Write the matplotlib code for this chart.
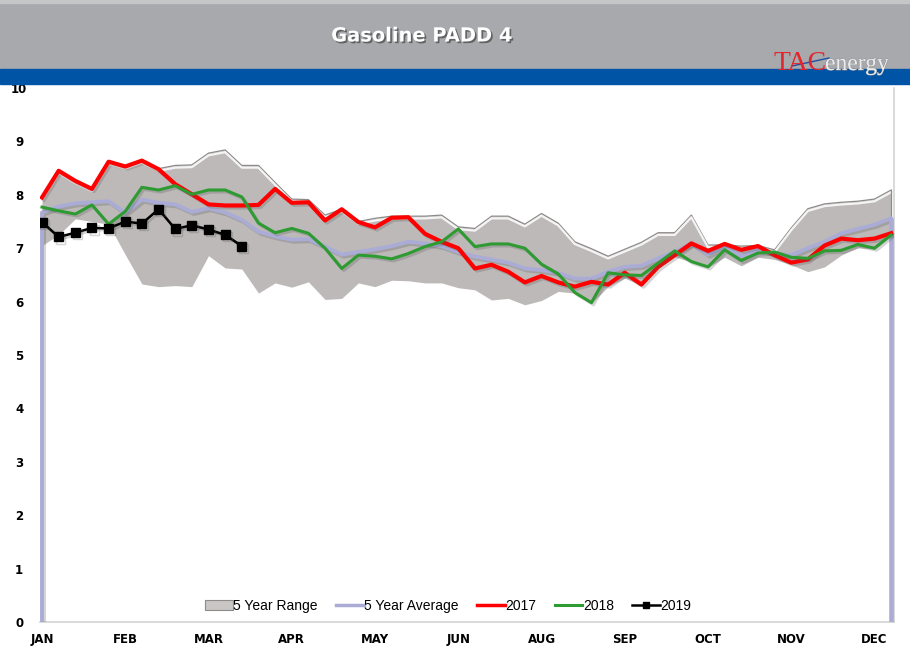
import numpy as np
import matplotlib
matplotlib.use("Agg")
import matplotlib.pyplot as plt
import matplotlib.patheffects as pe
from matplotlib.patches import Rectangle, Patch
from matplotlib.lines import Line2D
from matplotlib import transforms

# weekly values, week index 0..51
range_hi = [7.95, 8.45, 8.26, 8.11, 8.62, 8.53, 8.64, 8.49, 8.55, 8.56,
            8.78, 8.84, 8.55, 8.55, 8.23, 7.92, 7.91, 7.62, 7.73, 7.50,
            7.56, 7.60, 7.60, 7.60, 7.62, 7.40, 7.37, 7.60, 7.60, 7.45,
            7.65, 7.47, 7.12, 6.99, 6.85, 6.98, 7.11, 7.29, 7.29, 7.62,
            7.06, 7.06, 7.04, 7.05, 6.97, 7.38, 7.74, 7.83, 7.86, 7.88,
            7.92, 8.09]
range_lo = [7.05, 7.25, 7.55, 7.50, 7.45, 6.88, 6.33, 6.28, 6.30, 6.28,
            6.86, 6.63, 6.61, 6.16, 6.35, 6.27, 6.37, 6.04, 6.06, 6.35,
            6.28, 6.40, 6.39, 6.35, 6.35, 6.26, 6.22, 6.03, 6.06, 5.94,
            6.02, 6.19, 6.16, 5.97, 6.28, 6.44, 6.30, 6.62, 6.84, 6.74,
            6.64, 6.83, 6.67, 6.83, 6.79, 6.69, 6.56, 6.65, 6.87, 7.01,
            6.98, 7.22]
avg5 = [7.67, 7.78, 7.84, 7.86, 7.88, 7.66, 7.91, 7.85, 7.82, 7.68,
        7.75, 7.67, 7.53, 7.31, 7.22, 7.16, 7.17, 7.03, 6.88, 6.93,
        6.98, 7.04, 7.12, 7.09, 7.04, 6.93, 6.84, 6.79, 6.73, 6.62,
        6.59, 6.54, 6.43, 6.43, 6.56, 6.65, 6.67, 6.81, 6.93, 7.09,
        6.88, 7.03, 6.85, 6.97, 6.90, 6.87, 7.00, 7.12, 7.28, 7.36,
        7.44, 7.56]
y2017 = [7.95, 8.45, 8.26, 8.11, 8.62, 8.53, 8.64, 8.48, 8.20, 8.01,
         7.82, 7.80, 7.80, 7.81, 8.11, 7.85, 7.86, 7.52, 7.73, 7.49,
         7.39, 7.57, 7.58, 7.27, 7.12, 7.00, 6.62, 6.69, 6.56, 6.36,
         6.48, 6.36, 6.28, 6.37, 6.32, 6.54, 6.32, 6.65, 6.87, 7.09,
         6.95, 7.08, 6.97, 7.04, 6.87, 6.73, 6.79, 7.05, 7.18, 7.15,
         7.18, 7.28]
y2018 = [7.77, 7.70, 7.64, 7.81, 7.45, 7.69, 8.14, 8.09, 8.17, 8.01,
         8.09, 8.09, 7.96, 7.47, 7.29, 7.37, 7.28, 7.00, 6.62, 6.87,
         6.85, 6.80, 6.90, 7.03, 7.12, 7.36, 7.03, 7.08, 7.08, 7.00,
         6.70, 6.52, 6.17, 5.98, 6.54, 6.50, 6.49, 6.72, 6.95, 6.75,
         6.65, 6.97, 6.77, 6.91, 6.93, 6.83, 6.81, 6.95, 6.96, 7.07,
         7.00, 7.25]
y2019 = [7.49, 7.21, 7.29, 7.38, 7.37, 7.50, 7.46, 7.73, 7.36, 7.43,
         7.35, 7.25, 7.04]

months = ["JAN", "FEB", "MAR", "APR", "MAY", "JUN", "AUG", "SEP", "OCT", "NOV", "DEC"]

weeks = np.arange(len(avg5))
W, H = 910, 659

fig = plt.figure(figsize=(W / 100, H / 100), dpi=100)

# header bands
fig.patches.append(Rectangle((0, (H - 69) / H), 1, 69 / H, transform=fig.transFigure,
                             color="#a7a9ac", zorder=0))
fig.patches.append(Rectangle((0, (H - 3) / H), 1, 3 / H, transform=fig.transFigure,
                             color="#c4c6c8", zorder=0))
fig.patches.append(Rectangle((0, (H - 84) / H), 1, 15 / H, transform=fig.transFigure,
                             color="#0054a5", zorder=0))
fig.text(422 / W, 1 - 36 / H, "Gasoline PADD 4", ha="center", va="center", color="white",
         fontsize=14, fontweight="bold", family="DejaVu Sans",
         path_effects=[pe.SimplePatchShadow(offset=(1.2, -1.2), shadow_rgbFace="#444444", alpha=0.7),
                       pe.Normal()])
fig.text(774 / W, 1 - 70 / H, "TAC", ha="left", va="baseline", color="#e3262c",
         fontsize=20, family="Liberation Serif")
fig.text(825 / W, 1 - 70 / H, "energy", ha="left", va="baseline", color="#ececec",
         fontsize=17, family="Liberation Serif",
         path_effects=[pe.withStroke(linewidth=0.6, foreground="#8a8c90")])
fig.add_artist(Line2D([792 / W, 829 / W], [1 - 66 / H, 1 - 58 / H], transform=fig.transFigure,
                      color="#1f4fa3", lw=1.0))

ax = fig.add_axes([40 / W, 37 / H, 854 / W, 534 / H])
ax.set_xlim(-0.12, 51.17)
ax.set_ylim(0, 10)

# 5 year range with bevel
ax.fill_between(weeks, range_lo, range_hi, color="#bdb9b9", lw=0, zorder=1)
ax.plot(weeks, range_hi, color="#8e8a8a", lw=0.9, zorder=2)
hl = transforms.offset_copy(ax.transData, fig=fig, x=0, y=-2.2, units="dots")
ax.plot(weeks, range_hi, color="white", lw=1.6, alpha=0.85, transform=hl, zorder=2)
ax.plot([weeks[-1], weeks[-1]], [range_lo[-1], range_hi[-1]], color="#8e8a8a", lw=0.9, zorder=2)

shadow = [pe.SimpleLineShadow(offset=(1.5, -1.5), shadow_color="#555555", alpha=0.25), pe.Normal()]

ax.plot(np.r_[weeks[0], weeks, weeks[-1]], np.r_[0, avg5, 0], color="#aaacd6", lw=2.8,
        zorder=3, path_effects=shadow)
ax.plot(weeks, y2017, color="#ff0000", lw=3, zorder=4, path_effects=shadow)
ax.plot(weeks, y2018, color="#2e9a32", lw=2.2, zorder=5, path_effects=shadow)
ax.plot(weeks[:len(y2019)], y2019, color="black", lw=1.8, marker="s", markersize=6.5,
        zorder=6, path_effects=shadow)

ax.set_xticks(np.arange(0, 51, 5))
ax.set_xticklabels(months)
ax.set_yticks(range(0, 11))
ax.tick_params(length=0)
ax.tick_params(axis="x", pad=8)
ax.tick_params(axis="y", pad=15)
for lab in ax.get_xticklabels() + ax.get_yticklabels():
    lab.set_fontweight("bold")
    lab.set_fontsize(8.5)
    lab.set_family("Liberation Sans Narrow")
for lab in ax.get_yticklabels():
    lab.set_horizontalalignment("center")
for s in ["left", "top"]:
    ax.spines[s].set_visible(False)
for s in ["bottom", "right"]:
    ax.spines[s].set_color("#d3d3d3")
    ax.spines[s].set_linewidth(1.2)

handles = [
    Patch(facecolor="#c9c6c6", edgecolor="#8e8a8a", lw=0.8),
    Line2D([], [], color="#aaacd6", lw=2.5),
    Line2D([], [], color="#ff0000", lw=2.5),
    Line2D([], [], color="#2e9a32", lw=2.2),
    Line2D([], [], color="black", lw=1.8, marker="s", markersize=5),
]
labels = ["5 Year Range", "5 Year Average", "2017", "2018", "2019"]
ax.legend(handles, labels, loc="center", bbox_to_anchor=(0.478, 0.03), ncol=5, frameon=False,
          prop={"family": "Liberation Sans", "size": 10}, handlelength=2.0, handleheight=0.8,
          handletextpad=0.05, columnspacing=1.3)

fig.savefig("out.png", dpi=100)
